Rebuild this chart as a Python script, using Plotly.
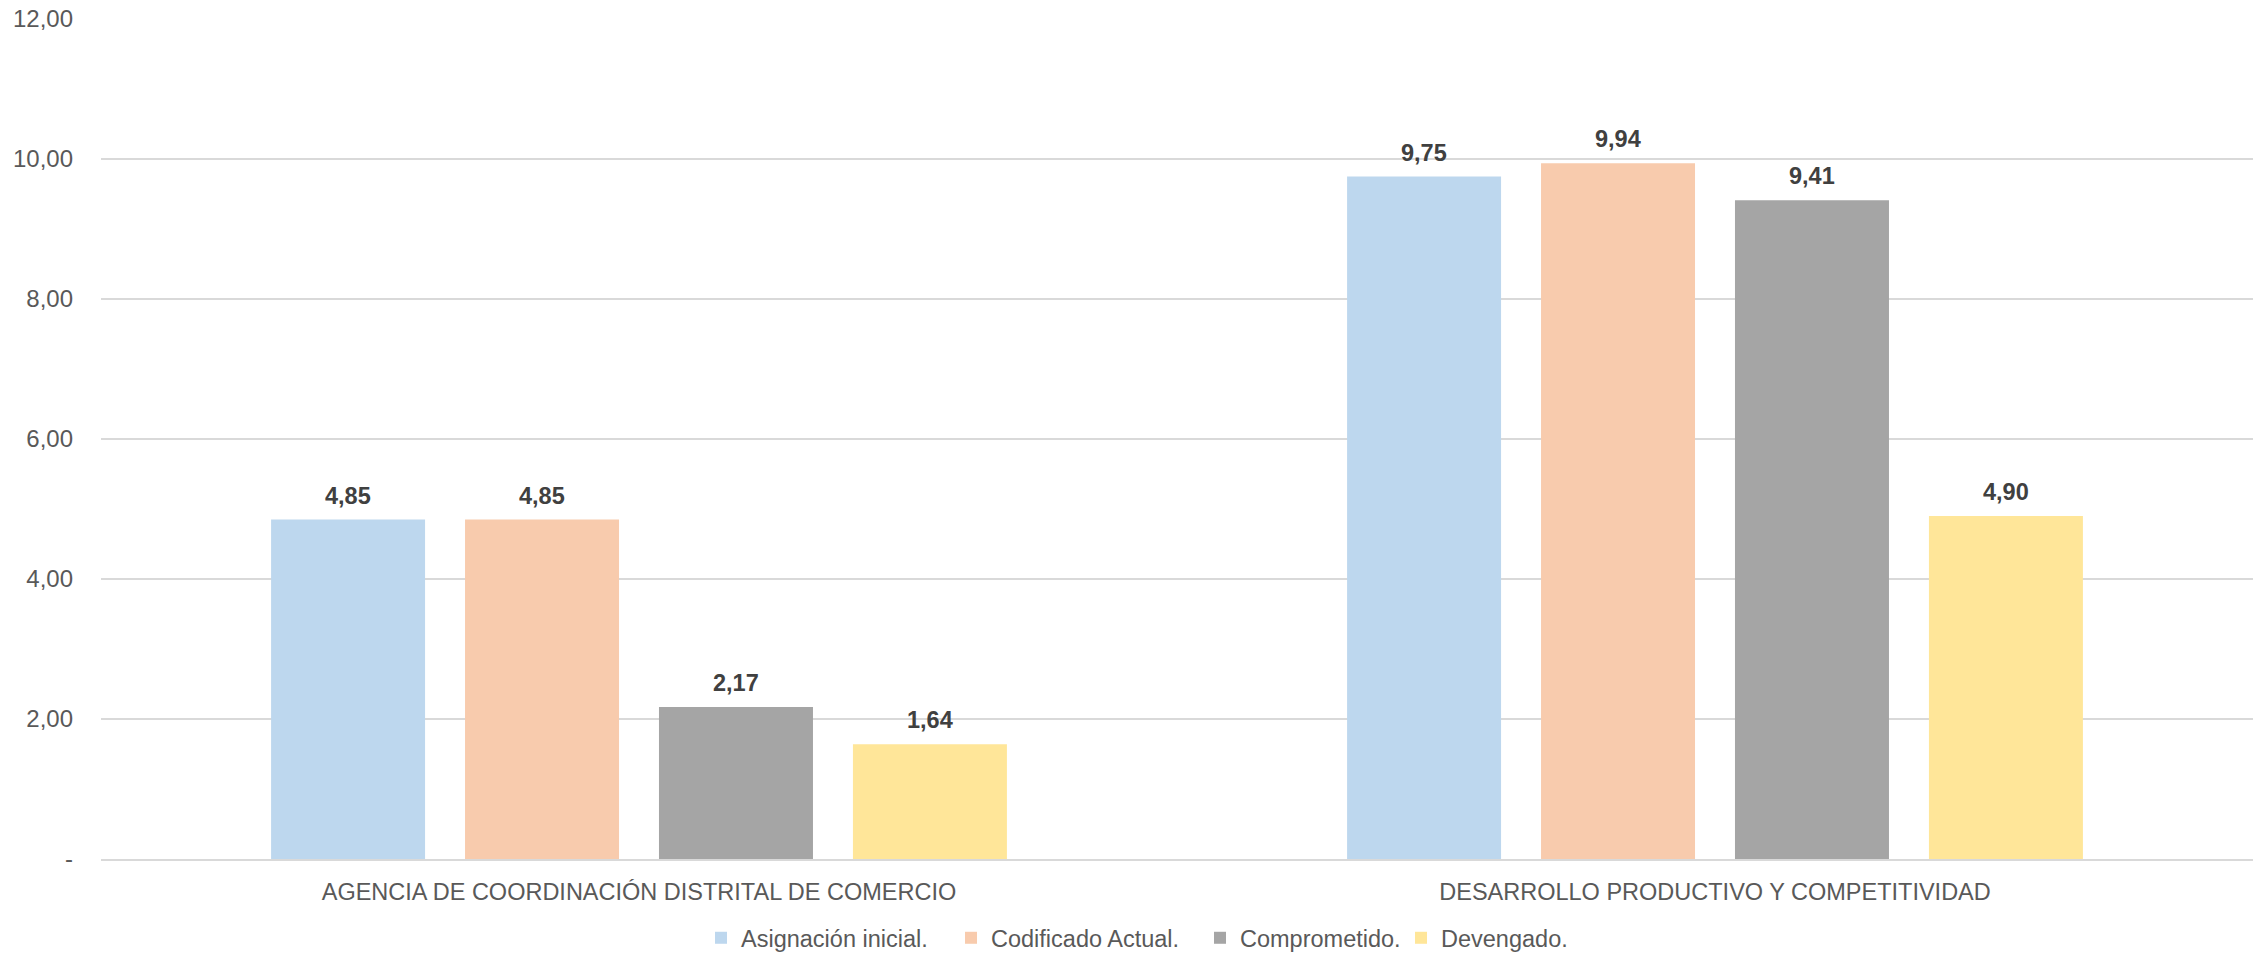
import plotly.graph_objects as go

categories = ["AGENCIA DE COORDINACIÓN DISTRITAL DE COMERCIO", "DESARROLLO PRODUCTIVO Y COMPETITIVIDAD"]
series_names = ["Asignación inicial.", "Codificado Actual.", "Comprometido.", "Devengado."]
asignacion = [4.85, 9.75]
codificado = [4.85, 9.94]
comprometido = [2.17, 9.41]
devengado = [1.64, 4.90]
colors = ["#BDD7EE", "#F8CBAD", "#A5A5A5", "#FFE699"]
y_tickvals = [0, 2, 4, 6, 8, 10, 12]
y_ticktext = ["-", "2,00", "4,00", "6,00", "8,00", "10,00", "12,00"]

FONT = "Liberation Sans, Arial, sans-serif"
W, H = 2253, 953
ML, MR, MT, MB = 101, 0, 19, 94
BARGAP, BARGROUPGAP = 0.279, 0.206
LEGEND_LEFT_PX = [701, 951, 1200, 1401]  # left edge of each legend entry

all_series = [asignacion, codificado, comprometido, devengado]
legend_ids = ["legend", "legend2", "legend3", "legend4"]
fig = go.Figure()
for name, vals, col, lg in zip(series_names, all_series, colors, legend_ids):
    fig.add_trace(go.Bar(
        x=categories, y=vals, name=name, marker=dict(color=col, line=dict(width=0)),
        legend=lg,
    ))

# data labels placed above each bar
cat_w = (W - ML - MR) / len(categories)
slot = cat_w * (1 - BARGAP) / len(all_series)
annotations = []
for i, vals in enumerate(all_series):
    for c, v in zip(categories, vals):
        annotations.append(dict(
            x=c, y=v, xref="x", yref="y", text="<b>" + f"{v:.2f}".replace(".", ",") + "</b>",
            showarrow=False, xshift=(i - (len(all_series) - 1) / 2) * slot, yshift=24,
            yanchor="middle", font=dict(family=FONT, size=23.5, color="#404040"),
        ))

legend_layouts = {}
for lg, px in zip(legend_ids, LEGEND_LEFT_PX):
    legend_layouts[lg] = dict(
        orientation="h", xref="container", yref="container", x=px / W, xanchor="left",
        y=1 - 938 / 953, yanchor="middle", font=dict(family=FONT, size=23.5, color="#595959"),
        bgcolor="rgba(0,0,0,0)", itemwidth=30,
    )

fig.update_layout(
    width=W, height=H,
    margin=dict(l=ML, r=MR, t=MT, b=MB),
    paper_bgcolor="white", plot_bgcolor="white",
    separators=",.",
    barmode="group", bargap=BARGAP, bargroupgap=BARGROUPGAP,
    font=dict(family=FONT, size=23.5, color="#595959"),
    showlegend=True,
    annotations=annotations,
    **legend_layouts,
)
fig.update_yaxes(range=[0, 12], tickvals=y_tickvals, ticktext=y_ticktext,
                 showgrid=True, gridcolor="#D9D9D9", gridwidth=1.5, zeroline=False,
                 showline=False, ticklabelstandoff=27, tickfont=dict(size=24, color="#595959"))
fig.update_xaxes(showline=True, linecolor="#D9D9D9", linewidth=2, ticks="",
                 ticklabelstandoff=11, tickfont=dict(size=23.5, color="#595959"))

fig.write_html("out.html", config={"displayModeBar": False},
               post_script="document.body.style.margin='0';")
